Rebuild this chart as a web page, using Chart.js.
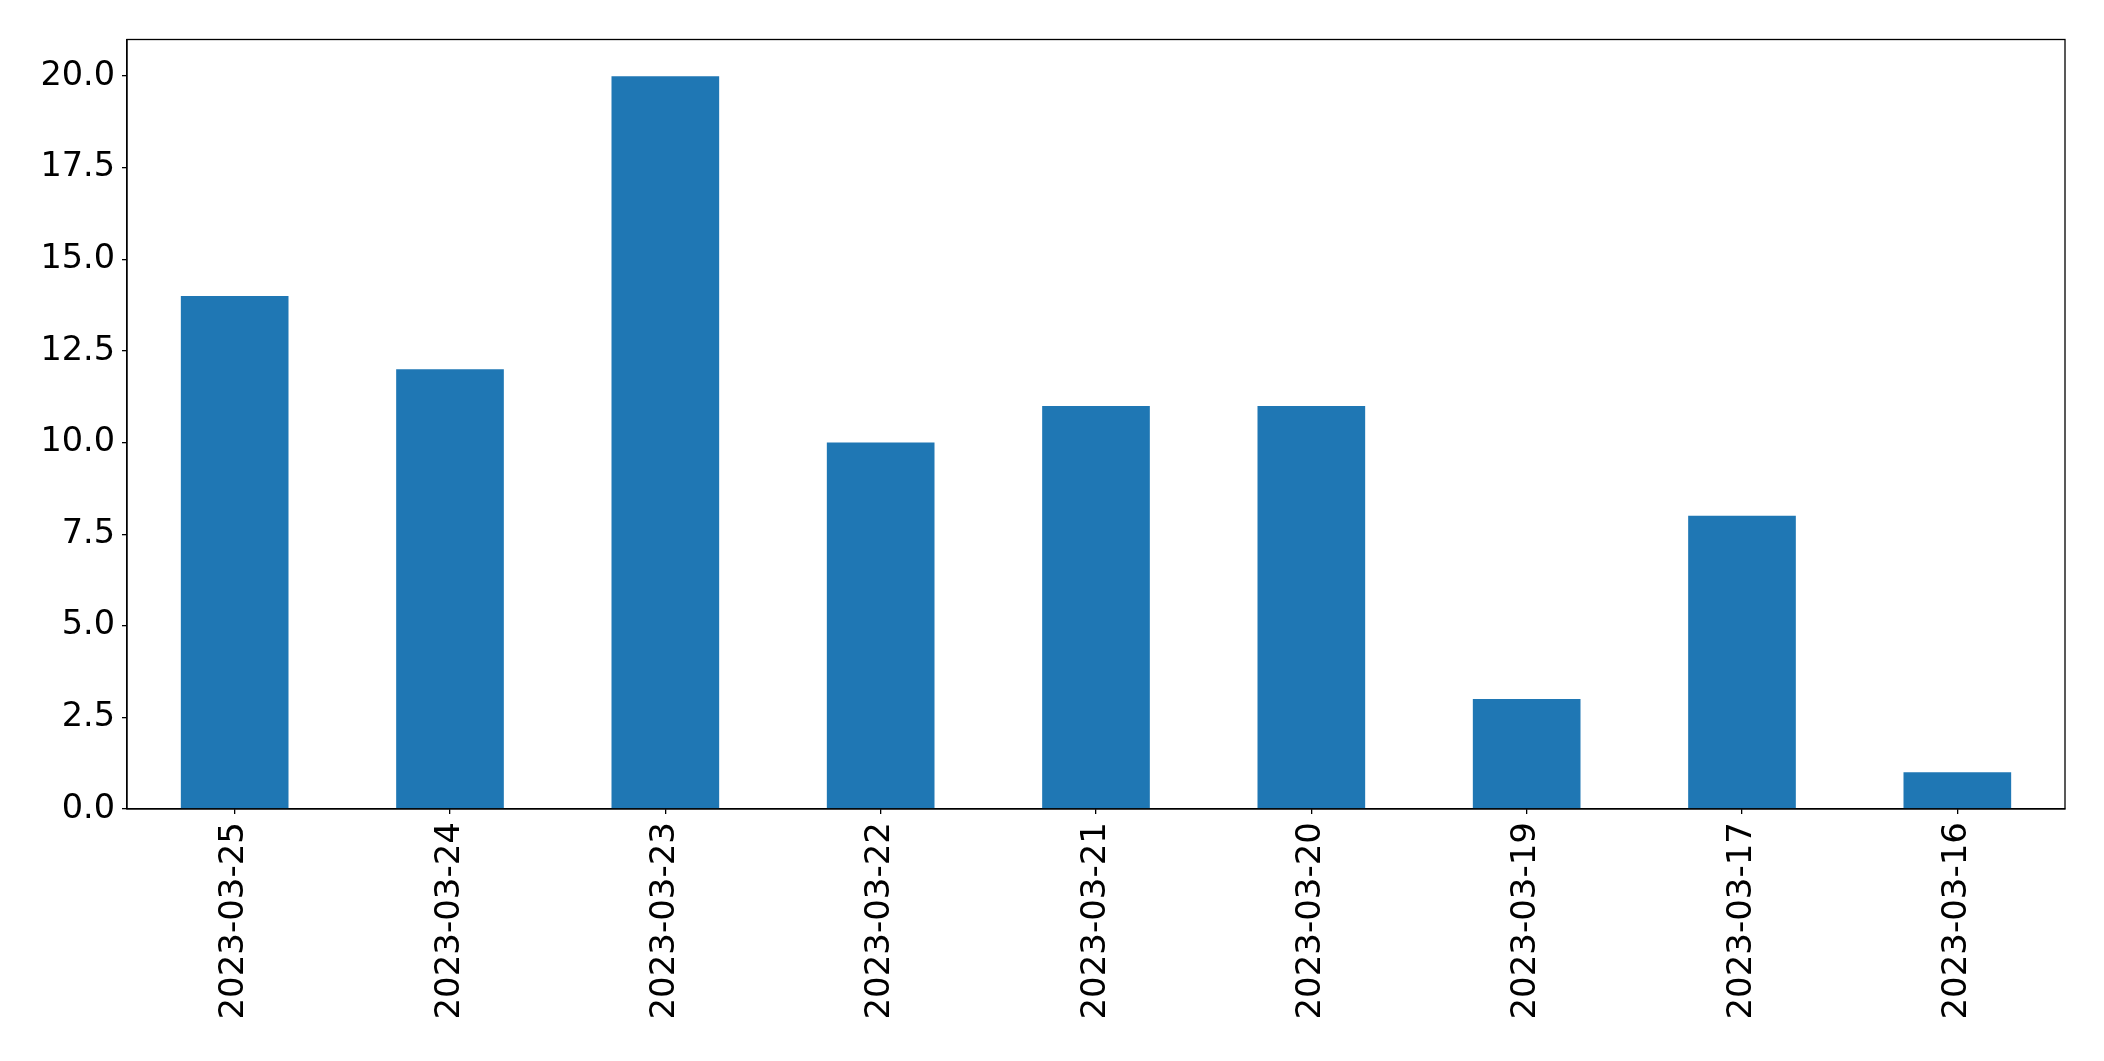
<!DOCTYPE html>
<html>
<head>
<meta charset="utf-8">
<script src="https://cdn.jsdelivr.net/npm/chart.js@4.4.0/dist/chart.umd.min.js"></script>
<style>
html,body{margin:0;padding:0;background:#fff;}
canvas{display:block;}
</style>
</head>
<body>
<canvas id="c" width="2104" height="1061"></canvas>
<script>
const categories = ["2023-03-25","2023-03-24","2023-03-23","2023-03-22","2023-03-21","2023-03-20","2023-03-19","2023-03-17","2023-03-16"];
const counts = [14, 12, 20, 10, 11, 11, 3, 8, 1];
const yMin = 0, yMax = 21, yStep = 2.5;

const frame = {
  id: 'frame',
  afterDraw(chart) {
    const a = chart.chartArea, ctx = chart.ctx;
    ctx.save();
    ctx.strokeStyle = '#000';
    ctx.lineWidth = 1.3;
    ctx.strokeRect(a.left, a.top, a.right - a.left, a.bottom - a.top);
    ctx.restore();
  }
};

new Chart(document.getElementById('c'), {
  type: 'bar',
  data: {
    labels: categories,
    datasets: [{
      data: counts,
      backgroundColor: '#1f77b4',
      borderWidth: 0,
      categoryPercentage: 1.0,
      barPercentage: 0.5
    }]
  },
  options: {
    responsive: false,
    animation: false,
    devicePixelRatio: 1,
    layout: { padding: { left: 0, top: 39.5, right: 39, bottom: 0 } },
    plugins: { legend: { display: false }, tooltip: { enabled: false } },
    scales: {
      x: {
        afterFit(s) { s.height = 252; },
        grid: { offset: false, drawOnChartArea: false, drawTicks: true, tickLength: 5, color: '#000', lineWidth: 1.3 },
        border: { display: true, color: '#000', width: 1.3 },
        ticks: {
          color: '#000',
          font: { family: 'DejaVu Sans', size: 34 },
          minRotation: 90, maxRotation: 90,
          padding: 8,
          autoSkip: false
        }
      },
      y: {
        min: yMin, max: yMax,
        afterFit(s) { s.width = 127; },
        grid: { drawOnChartArea: false, drawTicks: true, tickLength: 5, color: '#000', lineWidth: 1.3 },
        border: { display: true, color: '#000', width: 1.3 },
        ticks: {
          color: '#000',
          stepSize: yStep,
          includeBounds: false,
          font: { family: 'DejaVu Sans', size: 33.5 },
          padding: 7,
          callback: v => Number(v).toFixed(1)
        }
      }
    }
  },
  plugins: [frame]
});
</script>
</body>
</html>
